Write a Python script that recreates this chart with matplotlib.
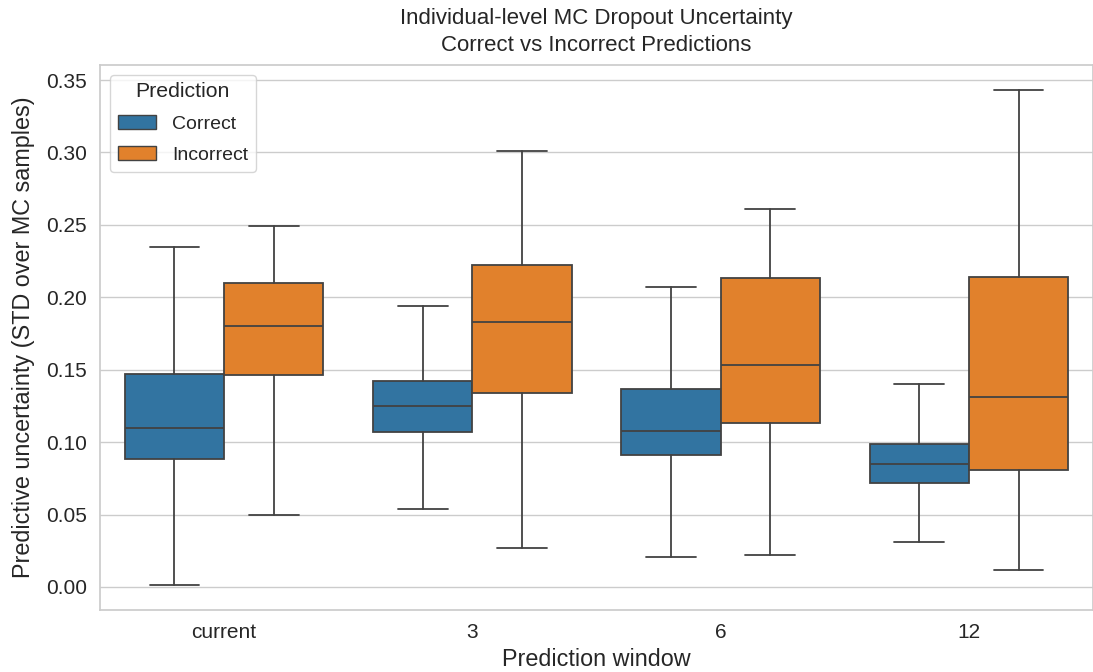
import matplotlib
matplotlib.use("Agg")
import matplotlib.pyplot as plt
import seaborn as sns
from matplotlib.patches import Patch

windows = ["current", "3", "6", "12"]
hues = ["Correct", "Incorrect"]
# five-number summaries per window: [whislo, q1, med, q3, whishi]
correct_stats = [
    [0.001, 0.088, 0.110, 0.147, 0.235],
    [0.054, 0.107, 0.125, 0.142, 0.194],
    [0.021, 0.091, 0.108, 0.137, 0.207],
    [0.031, 0.072, 0.085, 0.099, 0.140],
]
incorrect_stats = [
    [0.050, 0.146, 0.180, 0.210, 0.249],
    [0.027, 0.134, 0.183, 0.222, 0.301],
    [0.022, 0.113, 0.153, 0.213, 0.261],
    [0.012, 0.081, 0.131, 0.214, 0.343],
]

sns.set_theme(style="whitegrid")
plt.rcParams['font.family'] = ['Liberation Sans', 'DejaVu Sans']

fig = plt.figure(figsize=(10.93, 6.72), dpi=100)
ax = fig.add_axes([0.0915, 0.0923, 0.9085, 0.811])

colors = ["#3274a1", "#e1812c"]
line_col = "#424242"
box_w = 0.4
for hi, (stats_list, col) in enumerate(zip([correct_stats, incorrect_stats], colors)):
    stats = []
    for s in stats_list:
        stats.append(dict(whislo=s[0], q1=s[1], med=s[2], q3=s[3], whishi=s[4], fliers=[]))
    positions = [i + (hi - 0.5) * box_w for i in range(len(windows))]
    ax.bxp(stats, positions=positions, widths=box_w, patch_artist=True,
           showfliers=False, manage_ticks=False,
           boxprops=dict(facecolor=col, edgecolor=line_col, linewidth=1.3),
           medianprops=dict(color=line_col, linewidth=1.3),
           whiskerprops=dict(color=line_col, linewidth=1.3),
           capprops=dict(color=line_col, linewidth=1.3),
           capwidths=box_w * 0.5)

ax.set_xlim(-0.5, len(windows) - 0.5)
ax.set_ylim(-0.0159, 0.3604)
ax.set_xticks(range(len(windows)))
ax.set_xticklabels(windows)
ax.set_yticks([0.0, 0.05, 0.10, 0.15, 0.20, 0.25, 0.30, 0.35])
ax.set_yticklabels(["0.00", "0.05", "0.10", "0.15", "0.20", "0.25", "0.30", "0.35"])
ax.tick_params(labelsize=15, colors="#262626")
ax.grid(axis="x", visible=False)
ax.set_axisbelow(True)
ax.set_xlabel("Prediction window", fontsize=16.8, color="#262626", labelpad=4)
ax.set_ylabel("Predictive uncertainty (STD over MC samples)", fontsize=16.8,
              color="#262626", labelpad=8)
ax.set_title("Individual-level MC Dropout Uncertainty\nCorrect vs Incorrect Predictions",
             fontsize=16, color="#262626", pad=10, linespacing=1.35)

handles = [Patch(facecolor=c, edgecolor=line_col, label=h) for c, h in zip(colors, hues)]
leg = ax.legend(handles=handles, title="Prediction", loc="upper left",
                fontsize=14, title_fontsize=15.3, labelspacing=0.7)

fig.savefig("out.png", dpi=100)
